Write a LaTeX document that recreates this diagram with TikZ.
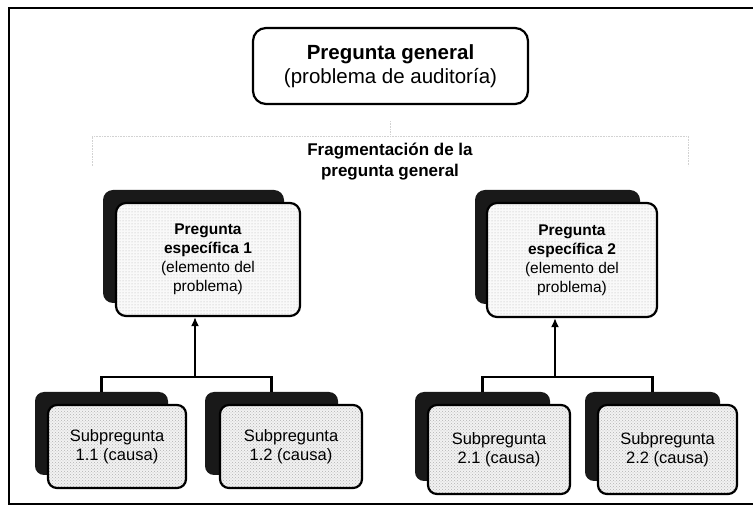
\documentclass[tikz,border=0pt]{standalone}
\usepackage{fontspec}
\setmainfont{Liberation Sans}
\usetikzlibrary{arrows.meta,patterns}

\begin{document}
\begin{tikzpicture}[x=1pt,y=-1pt,
  frameline/.style={line width=1.5pt},
  faint/.style={gray!35, densely dotted, line width=0.6pt},
  topbox/.style={draw, line width=2.2pt, rounded corners=13pt, fill=white,
    inner sep=0pt, align=center, font=\fontsize{20.5}{24}\selectfont},
  shadowbox/.style={fill=black!90, rounded corners=10pt, inner sep=0pt},
  specbox/.style={draw, line width=2.2pt, rounded corners=10pt, inner sep=0pt,
    align=center, preaction={fill=gray!5}, pattern=dots, pattern color=gray!60,
    font=\fontsize{15.5}{19}\selectfont},
  subbox/.style={draw, line width=2.2pt, rounded corners=9pt, inner sep=0pt,
    align=center, preaction={fill=gray!10}, pattern=crosshatch dots,
    pattern color=gray!60, font=\fontsize{16.5}{19}\selectfont},
  fraglabel/.style={align=center, inner sep=0pt, font=\bfseries\fontsize{17}{21}\selectfont},
  link/.style={line width=2.2pt},
  arrowlink/.style={link, -{Latex[length=9pt,width=8pt]}},
]
\useasboundingbox (0,0) rectangle (753,518);

% outer frame (open on the right)
\draw[frameline] (753,8) -- (9,8) -- (9,504) -- (753,504);

% general question
\node[topbox, minimum width=275pt, minimum height=76pt] (top) at (390.5,66)
  {\textbf{Pregunta general}\\(problema de auditoría)};

% faint grouping outline
\draw[faint] ([yshift=-16pt]top.south) -- ([yshift=-30pt]top.south);
\draw[faint] (92,166) -- (92,136) -- (688,136) -- (688,166);

\node[fraglabel] (frag) at (390,162) {Fragmentación de la\\pregunta general};

% specific questions
\node[shadowbox, minimum width=181pt, minimum height=113pt] (sh1) at (193.5,246.5) {};
\node[specbox, minimum width=184pt, minimum height=113pt] (s1) at (208,259.5)
  {\textbf{Pregunta}\\\textbf{específica 1}\\(elemento del\\problema)};
\node[shadowbox, minimum width=165pt, minimum height=114pt] (sh2) at (557.5,247) {};
\node[specbox, minimum width=170pt, minimum height=114pt] (s2) at (572,260)
  {\textbf{Pregunta}\\\textbf{específica 2}\\(elemento del\\problema)};

% sub-questions
\node[shadowbox, rounded corners=9pt, minimum width=133pt, minimum height=83pt] (sh11) at (101.5,433.5) {};
\node[subbox, minimum width=138pt, minimum height=83pt] (q11) at (117,446.5) {Subpregunta\\1.1 (causa)};
\node[shadowbox, rounded corners=9pt, minimum width=133pt, minimum height=83pt] (sh12) at (271.5,433.5) {};
\node[subbox, minimum width=142pt, minimum height=83pt] (q12) at (291,446.5) {Subpregunta\\1.2 (causa)};
\node[shadowbox, rounded corners=9pt, minimum width=135pt, minimum height=89pt] (sh21) at (482.5,436.5) {};
\node[subbox, minimum width=142pt, minimum height=89pt] (q21) at (499,449.5) {Subpregunta\\2.1 (causa)};
\node[shadowbox, rounded corners=9pt, minimum width=135pt, minimum height=89pt] (sh22) at (652.5,436.5) {};
\node[subbox, minimum width=139pt, minimum height=89pt] (q22) at (667.5,449.5) {Subpregunta\\2.2 (causa)};

% connectors
\coordinate (j1) at (195,377);
\coordinate (j2) at (555,377);
\draw[link] (sh11.north) |- (j1) -| (sh12.north);
\draw[arrowlink] (j1) -- (j1 |- s1.south);
\draw[link] (sh21.north) |- (j2) -| (sh22.north);
\draw[arrowlink] (j2) -- (j2 |- s2.south);
\end{tikzpicture}
\end{document}
